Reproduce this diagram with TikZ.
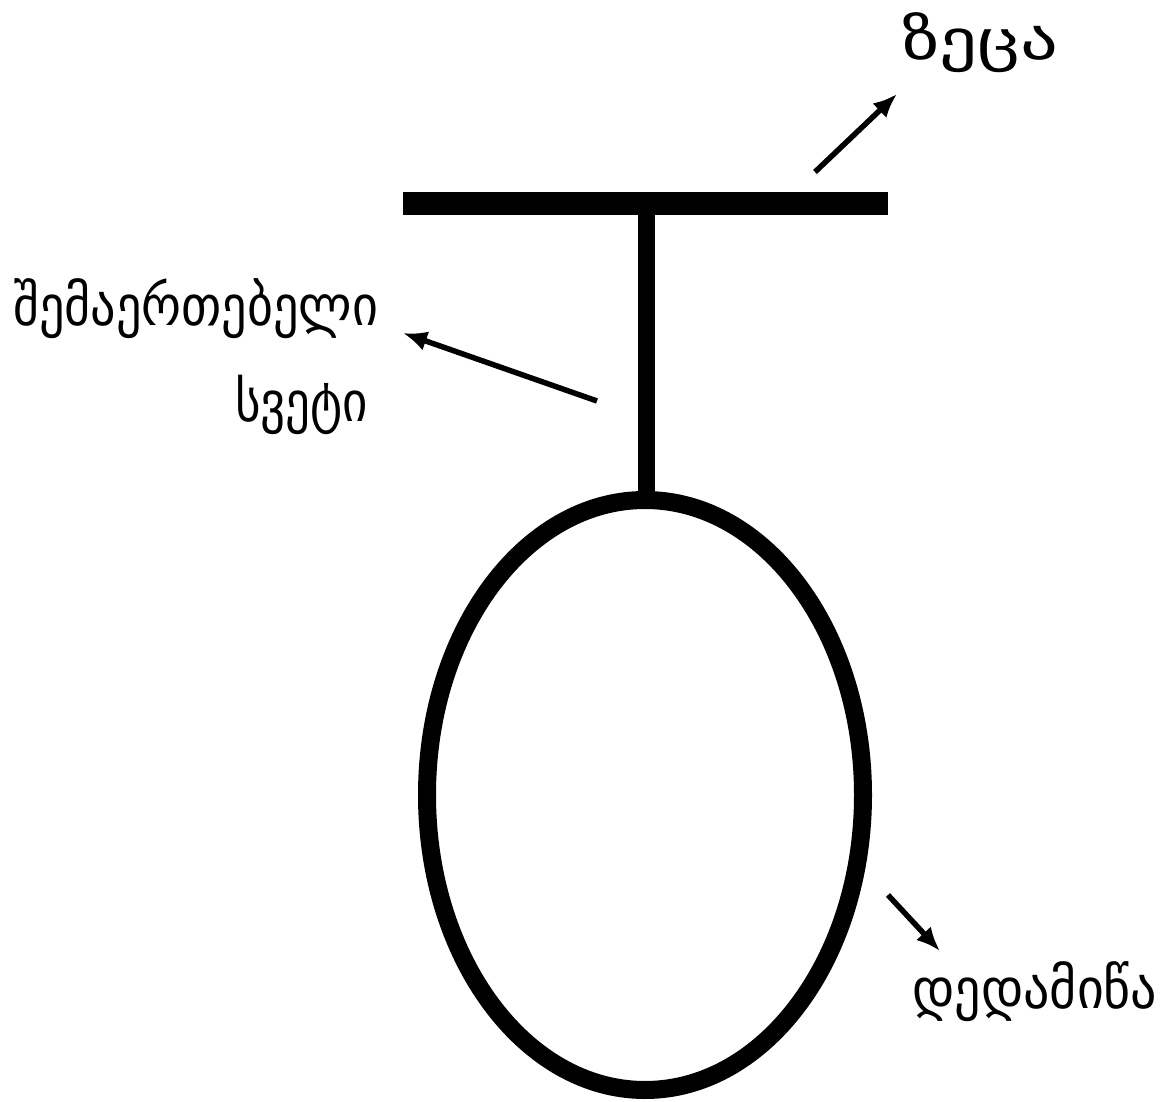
\documentclass[tikz,border=0pt]{standalone}
\usepackage{fontspec}
\usepackage{graphicx}
\newfontfamily\geo{DejaVu Sans}
\usetikzlibrary{arrows.meta,shapes.geometric}
\newcommand{\fitw}[2]{\resizebox{#1}{\height}{#2}}
\begin{document}
\begin{tikzpicture}[x=1pt,y=-1pt,
  lbl/.style={font=\geo\fontsize{56}{60}\selectfont, inner sep=0pt, anchor=base west},
  arr/.style={line width=5.5pt, -{Latex[length=24pt,width=20pt]}},
  earthshape/.style={draw, ellipse, line width=18pt, inner sep=0pt,
    minimum width=436pt, minimum height=590pt}]
\useasboundingbox (0,0) rectangle (1170,1102);
% sky bar
\coordinate (barL) at (403,203.5);
\coordinate (barR) at (888,203.5);
\draw[line width=23pt] (barL) -- (barR);
% column
\coordinate (stemTop) at (646,203);
\coordinate (stemBot) at (646,500);
\draw[line width=17pt] (stemTop) -- (stemBot);
% earth
\node[earthshape] (earth) at (645,795) {};
% labels
\node[lbl] (sky) at (902,60) {\fitw{156pt}{ზეცა}};
\node[lbl] (colA) at (13,325) {\fitw{365pt}{შემაერთებელი}};
\node[lbl] (colB) at (235,421) {\fitw{133pt}{სვეტი}};
\node[lbl] (earthlbl) at (912,1008) {\fitw{245pt}{დედამიწა}};
% arrows
\coordinate (skyTail) at (815,172);
\coordinate (skyTip) at (897,94);
\draw[arr] (skyTail) -- (skyTip);
\coordinate (colTail) at (597,401);
\coordinate (colTip) at (403,333);
\draw[arr] (colTail) -- (colTip);
\coordinate (earthTail) at (888,895);
\coordinate (earthTip) at (940,951);
\draw[arr] (earthTail) -- (earthTip);
\end{tikzpicture}
\end{document}
